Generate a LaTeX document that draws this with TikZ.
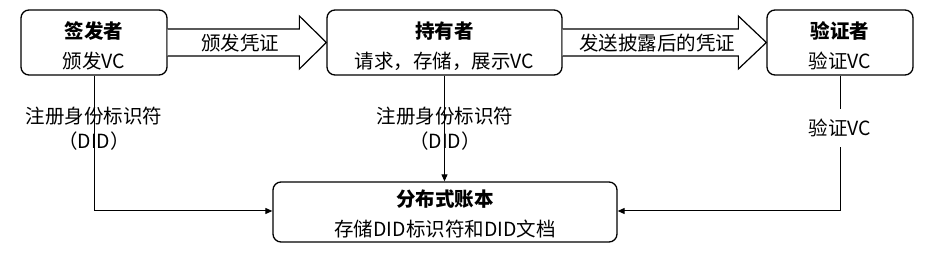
\documentclass[tikz,border=0pt]{standalone}
\usepackage{fontspec}
\setmainfont{Noto Sans CJK SC}
\usetikzlibrary{arrows.meta,calc}
\begin{document}
\begin{tikzpicture}[x=1pt,y=-1pt,
  every node/.style={font=\fontsize{19.5}{22}\selectfont, inner sep=0pt},
  actor/.style={draw, line width=1.3pt, rounded corners=8pt, inner sep=0pt},
  title/.style={font=\fontsize{19.5}{22}\selectfont\bfseries},
  bigarrow/.style={draw, line width=1.2pt, line join=miter, fill=white},
  conn/.style={line width=1pt, -{Triangle[length=7pt,width=6pt]}},
  lbl/.style={align=center, font=\fontsize{19.5}{25}\selectfont}]
\useasboundingbox (0,0) rectangle (932,253);
% boxes
\node[actor, minimum width=146pt, minimum height=65pt] (iss) at (94,42.5) {};
\node[actor, minimum width=235pt, minimum height=65pt] (hol) at (444.5,42.5) {};
\node[actor, minimum width=146pt, minimum height=65pt] (ver) at (840,42.5) {};
\node[actor, minimum width=344pt, minimum height=60pt] (led) at (445,212) {};
% box texts
\node[title] (isst) at ($(iss.north)+(0,22)$) {签发者};
\node (isss) at ($(iss.north)+(0,52)$) {颁发VC};
\node[title] (holt) at ($(hol.north)+(0,22)$) {持有者};
\node (hols) at ($(hol.north)+(0,52)$) {请求，存储，展示VC};
\node[title] (vert) at ($(ver.north)+(0,22)$) {验证者};
\node (vers) at ($(ver.north)+(0,52)$) {验证VC};
\node[title] (ledt) at ($(led.north)+(0,18)$) {分布式账本};
\node (leds) at ($(led.north)+(0,48)$) {存储DID标识符和DID文档};
% big arrows
\draw[bigarrow] ($(iss.east)+(0,-13.5)$) -- ($(hol.west)+(-27,-13.5)$) -- ($(hol.west)+(-27,-26.5)$)
  -- (hol.west) -- ($(hol.west)+(-27,26.5)$) -- ($(hol.west)+(-27,13.5)$) -- ($(iss.east)+(0,13.5)$);
\node (a1) at (240,43) {颁发凭证};
\draw[bigarrow] ($(hol.east)+(0,-13.5)$) -- ($(ver.west)+(-28,-13.5)$) -- ($(ver.west)+(-28,-26.5)$)
  -- (ver.west) -- ($(ver.west)+(-28,26.5)$) -- ($(ver.west)+(-28,13.5)$) -- ($(hol.east)+(0,13.5)$);
\node (a2) at (657,43) {发送披露后的凭证};
% connectors
\coordinate (c1) at (94,211);
\coordinate (c2) at (840,211);
\draw[conn] (iss.south) -- (c1) -- (c1 -| led.west);
\node[lbl] (l1) at (94,129) {注册身份标识符\\（DID）};
\draw[conn] (iss.south -| hol.south) -- (led.north -| hol.south);
\node[lbl] (l2) at (445,129) {注册身份标识符\\（DID）};
\draw[conn] (ver.south) -- (c2) -- (c2 -| led.east);
\node[fill=white, inner xsep=2pt, inner ysep=10pt] (l3) at (840,128) {验证VC};
\end{tikzpicture}
\end{document}
